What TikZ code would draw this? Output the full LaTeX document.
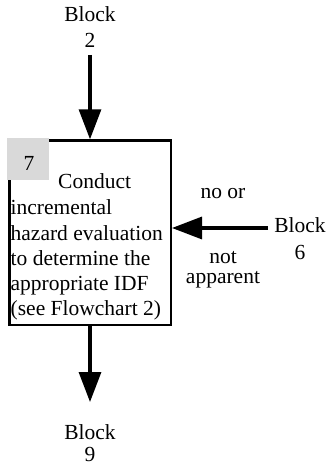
\documentclass[tikz,border=0pt]{standalone}
\usepackage{fontspec}
\setmainfont{Liberation Serif}
\newfontfamily\timesfont{Liberation Serif}
\usetikzlibrary{arrows.meta}
\begin{document}
\begin{tikzpicture}[x=1pt,y=-1pt,
  txt/.style={inner sep=0pt, font=\timesfont\fontsize{21.5}{25}\selectfont},
  lft/.style={txt, anchor=base west},
  ctr/.style={txt, anchor=base},
  flow/.style={line width=3.2pt,-{Triangle[length=30pt 0,width=22pt 0]}}]
\useasboundingbox (0,0) rectangle (328,465);
% main box
\node[draw, line width=2.5pt, minimum width=161.2pt, minimum height=184.4pt,
      inner sep=0pt, anchor=north west] (box) at (8.3,139.3) {};
\fill[gray!30] (7,138) rectangle (49,180);
\node[ctr] (num) at (29,170) {7};
\node[lft] (l1) at (58,188) {Conduct};
\node[lft] (l2) at (10.5,214) {incremental};
\node[lft] (l3) at (10.5,240) {hazard evaluation};
\node[lft] (l4) at (10.5,265) {to determine the};
\node[lft] (l5) at (10.5,290) {appropriate IDF};
\node[lft] (l6) at (10.5,315) {(see Flowchart 2)};
% top
\node[ctr] (t1) at (90,22) {Block};
\node[ctr] (t2) at (90,48) {2};
\coordinate (ts) at (90,55);
\draw[flow] (ts) -- (ts |- box.north);
% right
\node[ctr] (r1) at (300,232) {Block};
\node[ctr] (r2) at (300,259) {6};
\coordinate (rs) at (268,228);
\draw[flow] (rs) -- (rs -| box.east);
\node[ctr] (n1) at (223,198) {no or};
\node[ctr] (n2) at (223,263) {not};
\node[ctr] (n3) at (223,283) {apparent};
% bottom
\coordinate (be) at (90,402);
\draw[flow] (be |- box.south) -- (be);
\node[ctr] (b1) at (90,439) {Block};
\node[ctr] (b2) at (90,461) {9};
\end{tikzpicture}
\end{document}
